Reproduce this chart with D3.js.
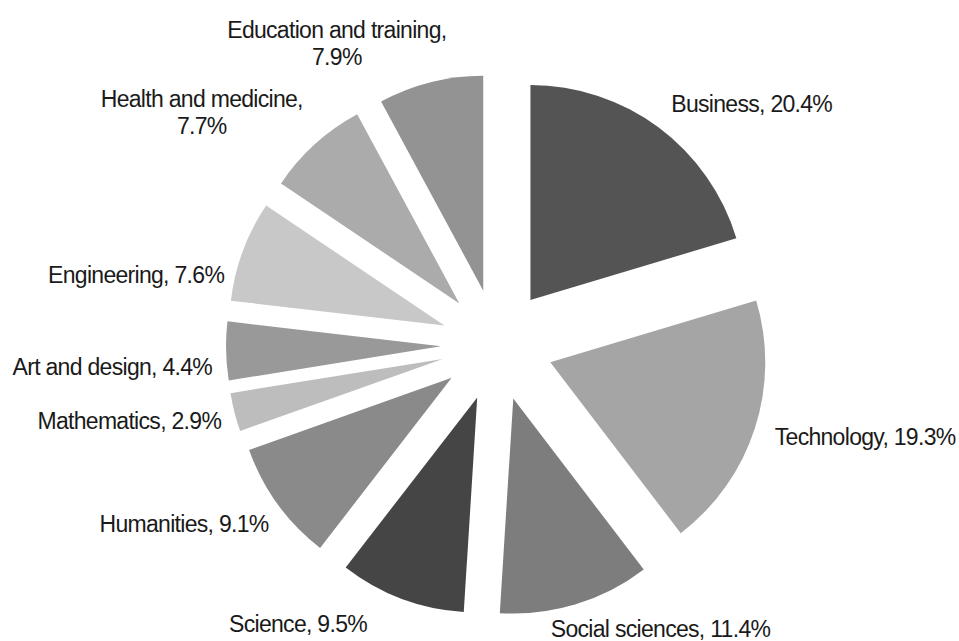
<!doctype html>
<html>
<head>
	<meta charset="utf-8">
	<title>Fields of study</title>
	<script src="https://d3js.org/d3.v7.min.js" charset="utf-8"></script>
	<style>
		body { margin: 0; background: #fff; }
		text { font-family: "Liberation Sans", Arial, sans-serif; font-size: 23px; letter-spacing: -0.7px; fill: #1a1a1a; }
	</style>
</head>

<body>

<script>

// data, clockwise from 12 o'clock
const categories = ["Business", "Technology", "Social sciences", "Science", "Humanities",
					"Mathematics", "Art and design", "Engineering", "Health and medicine",
					"Education and training"];
const shares = [20.4, 19.3, 11.4, 9.5, 9.1, 2.9, 4.4, 7.6, 7.7, 7.9];

const w = 959;
const h = 641;
const cx = 497;
const cy = 345;
const radius = 215;
const explode = 56;
const labelRadius = 292;

// grey shade for each slice
const shade = d3.scaleOrdinal()
				.domain(categories)
				.range(["#545454", "#a5a5a5", "#7d7d7d", "#454545", "#8a8a8a",
						"#bdbdbd", "#999999", "#c8c8c8", "#ababab", "#939393"]);

// small hand tweaks so labels sit where the original put them
const labelNudge = {
	"Business": [0, -7],
	"Technology": [0, 2],
	"Social sciences": [-31, 5],
	"Science": [-27, 6],
	"Humanities": [8, 8],
	"Mathematics": [7, 3],
	"Art and design": [7, 16],
	"Engineering": [1, 31],
	"Health and medicine": [2, -16],
	"Education and training": [21, -18]
};

const table = categories.map(function(c, i) { return {name: c, value: shares[i]}; });

const pie = d3.pie()
			  .sort(null)
			  .value(function(d) { return d.value; });

const arc = d3.arc()
			  .innerRadius(0)
			  .outerRadius(radius);

const svg = d3.select("body").append("svg")
							 .attr("width", w)
							 .attr("height", h);

const g = svg.append("g")
			 .attr("transform", "translate(" + cx + "," + cy + ")");

const slices = pie(table);

function dir(d) {
	const a = (d.startAngle + d.endAngle) / 2;
	return [Math.sin(a), -Math.cos(a)];
}

g.selectAll("path")
 .data(slices)
 .enter()
 .append("path")
 .attr("d", arc)
 .attr("transform", function(d) {
	 const u = dir(d);
	 return "translate(" + (u[0] * explode) + "," + (u[1] * explode) + ")";
 })
 .style("fill", function(d) { return shade(d.data.name); });

// labels
slices.forEach(function(d) {
	const u = dir(d);
	const nudge = labelNudge[d.data.name] || [0, 0];
	const x = u[0] * labelRadius + nudge[0];
	const y = u[1] * labelRadius + nudge[1];
	const right = u[0] > 0;
	const pct = d3.format(".1f")(d.data.value) + "%";

	if (d.data.name.length > 16) {
		// two line label, centred lines, block sits beside the point
		const t = g.append("text").attr("text-anchor", "middle");
		const l1 = t.append("tspan").text(d.data.name + ",");
		const bw = l1.node().getComputedTextLength();
		const mx = right ? x + bw / 2 : x - bw / 2;
		l1.attr("x", mx).attr("y", y - 13.5).attr("dy", "0.35em");
		t.append("tspan").text(pct).attr("x", mx).attr("y", y + 13.5).attr("dy", "0.35em");
	} else {
		g.append("text")
		 .attr("x", x)
		 .attr("y", y)
		 .attr("dy", "0.35em")
		 .attr("text-anchor", right ? "start" : "end")
		 .text(d.data.name + ", " + pct);
	}
});

</script>

</body>
</html>
